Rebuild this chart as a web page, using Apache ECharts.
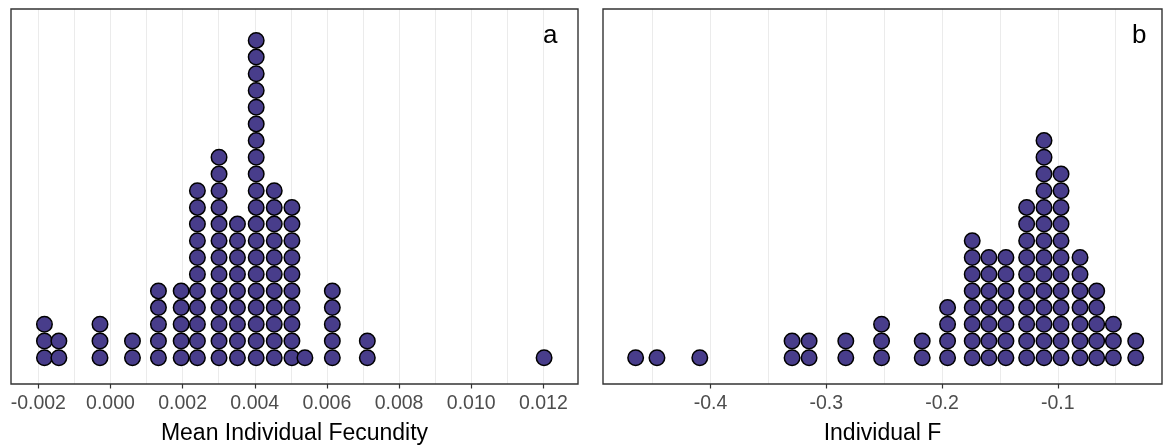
<!DOCTYPE html>
<html>
<head>
<meta charset="utf-8">
<script src="https://cdn.jsdelivr.net/npm/echarts@6/dist/echarts.min.js"></script>
<style>
html,body{margin:0;padding:0;background:#fff;}
#chart{width:1163px;height:446px;}
</style>
</head>
<body>
<div id="chart"></div>
<script>
// Panel a: Mean Individual Fecundity — column (bin) centres and dot counts
const fecundityBins   = [-0.00183, -0.00143, -0.00029, 0.00061, 0.00133, 0.00196, 0.00241, 0.00301, 0.00352, 0.00404, 0.00454, 0.00503, 0.00539, 0.00615, 0.00712, 0.01202];
const fecundityCounts = [3, 2, 3, 2, 5, 5, 11, 13, 9, 20, 11, 10, 1, 5, 2, 1];
// Panel b: Individual F — column (bin) centres and dot counts
const fBins   = [-0.4646, -0.4462, -0.4092, -0.3295, -0.3148, -0.2831, -0.2522, -0.2171, -0.1952, -0.1739, -0.1595, -0.1448, -0.1269, -0.1119, -0.0972, -0.0808, -0.0664, -0.0520, -0.0327];
const fCounts = [1, 1, 1, 2, 2, 2, 3, 2, 4, 8, 7, 7, 10, 14, 12, 7, 5, 3, 2];
// Tick values
const fecundityTicks = [-0.002, 0.000, 0.002, 0.004, 0.006, 0.008, 0.010, 0.012];
const fecundityGrid  = [-0.002, -0.001, 0.000, 0.001, 0.002, 0.003, 0.004, 0.005, 0.006, 0.007, 0.008, 0.009, 0.010, 0.011, 0.012];
const fTicks = [-0.4, -0.3, -0.2, -0.1];
const fGrid  = [-0.45, -0.4, -0.35, -0.3, -0.25, -0.2, -0.15, -0.1, -0.05];
const panelLabels = ['a', 'b'];
const axisTitles = ['Mean Individual Fecundity', 'Individual F'];

function stackPoints(bins, counts) {
  const pts = [];
  bins.forEach((b, i) => { for (let k = 0; k < counts[i]; k++) pts.push([b, k]); });
  return pts;
}

const FONT = 'Liberation Sans, Arial, sans-serif';
const gridColor = '#ebebeb';

function xAxesFor(gridIndex, min, max, ticks, gridVals, title, digits) {
  return [
    { // gridlines only
      type: 'value', gridIndex, min, max, position: 'bottom',
      axisLine: {show: false}, axisLabel: {show: false},
      axisTick: {show: false, customValues: gridVals},
      splitLine: {show: true, lineStyle: {color: gridColor, width: 1}}
    },
    { // ticks + labels + title
      type: 'value', gridIndex, min, max, position: 'bottom',
      axisLine: {show: false},
      axisTick: {show: true, customValues: ticks, length: 4.5, lineStyle: {color: '#333', width: 1.2}},
      axisLabel: {show: true, customValues: ticks, margin: 10, color: '#4d4d4d', fontSize: 19.5, fontFamily: FONT,
        formatter: v => v.toFixed(digits)},
      splitLine: {show: false},
      name: title, nameLocation: 'middle', nameGap: 38,
      nameTextStyle: {color: '#000', fontSize: 23, fontFamily: FONT}
    }
  ];
}

const yAxisBase = (gridIndex) => ({
  type: 'value', gridIndex, min: -1.575, max: 20.88, show: false,
  splitLine: {show: false}
});

const dotStyle = {color: '#483D8B', opacity: 1, borderColor: '#000', borderWidth: 1.5};

const option = {
  animation: false,
  backgroundColor: '#fff',
  grid: [
    {left: 11, right: 585, top: 9, bottom: 62, show: false, outerBoundsMode: 'none', containLabel: false},
    {left: 603, right: 1, top: 9, bottom: 62, show: false, outerBoundsMode: 'none', containLabel: false}
  ],
  xAxis: [
    ...xAxesFor(0, -0.002757, 0.01296, fecundityTicks, fecundityGrid, axisTitles[0], 3),
    ...xAxesFor(1, -0.4928, -0.0100, fTicks, fGrid, axisTitles[1], 1)
  ],
  yAxis: [yAxisBase(0), yAxisBase(1)],
  series: [
    {type: 'scatter', xAxisIndex: 1, yAxisIndex: 0, symbolSize: 15.5, itemStyle: dotStyle,
      data: stackPoints(fecundityBins, fecundityCounts)},
    {type: 'scatter', xAxisIndex: 3, yAxisIndex: 1, symbolSize: 15.5, itemStyle: dotStyle,
      data: stackPoints(fBins, fCounts)}
  ],
  graphic: [
    {type: 'rect', z: 100, shape: {x: 11, y: 9, width: 567, height: 375}, style: {fill: 'none', stroke: '#333', lineWidth: 1.4}},
    {type: 'rect', z: 100, shape: {x: 603, y: 9, width: 559, height: 375}, style: {fill: 'none', stroke: '#333', lineWidth: 1.4}},
    {type: 'text', z: 100, left: 543, top: 23, style: {text: panelLabels[0], fontSize: 26, fontFamily: FONT, fill: '#000'}},
    {type: 'text', z: 100, left: 1132, top: 23, style: {text: panelLabels[1], fontSize: 26, fontFamily: FONT, fill: '#000'}}
  ]
};

const chart = echarts.init(document.getElementById('chart'), null, {renderer: 'canvas'});
chart.setOption(option);
</script>
</body>
</html>
